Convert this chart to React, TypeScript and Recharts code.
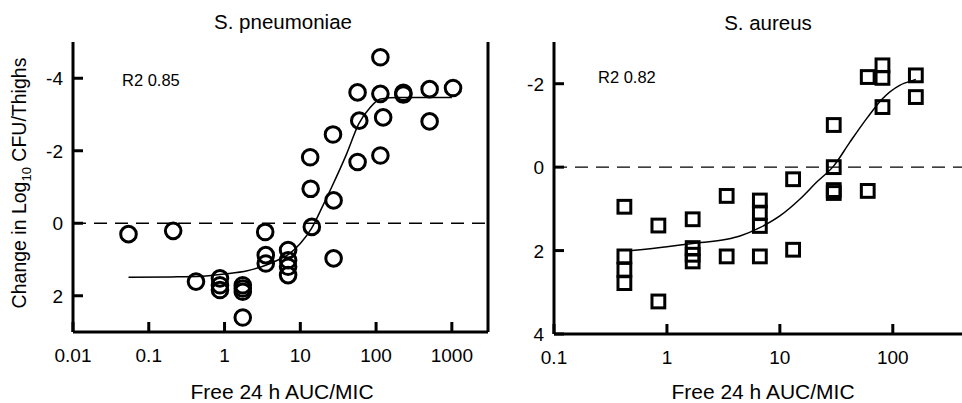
import React from 'react';
import { ScatterChart, Scatter, XAxis, YAxis, ReferenceLine } from 'recharts';

// ---------- S. pneumoniae (left panel) ----------
const spAuc = [0.054, 0.21, 0.42, 0.87, 0.87, 0.87, 1.74, 1.74, 1.74, 1.74, 3.44, 3.5, 3.5, 6.9, 6.9, 6.9, 6.9, 14.2, 13.7, 13.5, 27.5, 27, 27.5, 57, 60, 57, 114, 114, 124, 114, 229, 229, 509, 509, 1037];
const spChange = [0.3, 0.21, 1.61, 1.52, 1.71, 1.84, 1.71, 1.8, 1.89, 2.6, 0.24, 0.88, 1.11, 0.74, 1.02, 1.2, 1.43, 0.1, -0.95, -1.82, -0.63, -2.45, 0.97, -1.69, -2.83, -3.61, -4.58, -3.57, -2.92, -1.87, -3.6, -3.55, -3.7, -2.81, -3.73];
const spFitAuc = [0.054, 0.2, 0.5, 1, 2, 3.5, 5, 7, 10, 14, 20, 26, 41, 59, 84, 114, 200, 1000];
const spFitChange = [1.49, 1.48, 1.46, 1.4, 1.31, 1.16, 1.02, 0.86, 0.56, 0.15, -0.5, -1.0, -1.92, -2.74, -3.2, -3.43, -3.47, -3.47];
const spXTicks = [0.01, 0.1, 1, 10, 100, 1000];
const spYTicks = [-4, -2, 0, 2];

// ---------- S. aureus (right panel) ----------
const saAuc = [0.42, 0.42, 0.42, 0.42, 0.84, 0.84, 1.69, 1.69, 1.69, 1.69, 3.38, 3.38, 6.65, 6.65, 6.65, 6.65, 13.1, 13.1, 30, 30, 30, 30, 60, 60, 81, 81, 81, 160, 160];
const saChange = [0.95, 2.14, 2.46, 2.78, 1.4, 3.22, 1.25, 1.94, 2.1, 2.26, 0.69, 2.14, 0.8, 1.09, 1.41, 2.14, 0.29, 1.98, -1.01, 0.0, 0.55, 0.62, 0.57, -2.16, -2.44, -2.14, -1.44, -2.2, -1.68];
const saFitAuc = [0.49, 1.0, 1.69, 3.38, 4.43, 6.65, 10, 15, 21, 30, 41.7, 60, 81, 115, 151, 160];
const saFitChange = [2.0, 1.91, 1.83, 1.73, 1.65, 1.45, 1.17, 0.77, 0.37, -0.03, -0.6, -1.2, -1.64, -1.96, -2.08, -2.1];
const saXTicks = [0.1, 1, 10, 100];
const saYTicks = [-2, 0, 2, 4];

const zip = (xs: number[], ys: number[]) => xs.map((x, i) => ({ x, y: ys[i] }));

const FONT = '"Liberation Sans", Arial, Helvetica, sans-serif';

const XTick = (props: any) => {
  const { x, y, payload } = props;
  return (
    <g>
      <line x1={x} x2={x} y1={y} y2={y - 10} stroke="#000" strokeWidth={3} />
      <text x={x} y={y + 30} textAnchor="middle" fontSize={19} fontFamily={FONT} fill="#000">
        {String(payload.value)}
      </text>
    </g>
  );
};

const YTick = (props: any) => {
  const { x, y, payload } = props;
  return (
    <g>
      <line x1={x} x2={x + 10} y1={y} y2={y} stroke="#000" strokeWidth={3} />
      <text x={x - 10} y={y + 7} textAnchor="end" fontSize={19} fontFamily={FONT} fill="#000">
        {String(payload.value)}
      </text>
    </g>
  );
};

const Empty = () => <g />;
const Ring = (p: any) => <circle cx={p.cx} cy={p.cy} r={7.8} fill="none" stroke="#000" strokeWidth={3} />;
const Box = (p: any) => <rect x={p.cx - 6.4} y={p.cy - 6.4} width={12.8} height={12.8} fill="none" stroke="#000" strokeWidth={3} />;

const axisLine = { stroke: '#000', strokeWidth: 3 };

export default function App() {
  const spPts = zip(spAuc, spChange);
  const spFit = zip(spFitAuc, spFitChange);
  const saPts = zip(saAuc, saChange);
  const saFit = zip(saFitAuc, saFitChange);
  return (
    <div style={{ position: 'absolute', left: 0, top: 0, width: 962, height: 403, overflow: 'hidden', background: '#fff' }}>
      <div style={{ position: 'absolute', left: 0, top: 0 }}>
        <ScatterChart width={500} height={403} margin={{ top: 42, right: 12, bottom: 0, left: 0 }}>
          <XAxis type="number" dataKey="x" scale="log" domain={[0.01, 3000]} ticks={spXTicks} interval={0}
            allowDataOverflow height={71} tickSize={0} tickMargin={0} tickLine={false} axisLine={axisLine} tick={XTick} />
          <YAxis type="number" dataKey="y" reversed domain={[-5, 3]} ticks={spYTicks} interval={0}
            allowDataOverflow width={73} tickSize={0} tickMargin={0} tickLine={false} axisLine={axisLine} tick={YTick} />
          <ReferenceLine y={0} stroke="#000" strokeWidth={1.3} strokeDasharray="13 8" />
          <ReferenceLine x={3000} stroke="#000" strokeWidth={3} />
          <Scatter data={spFit} fill="none" line={{ stroke: '#000', strokeWidth: 1.5 }} lineJointType="monotoneX" shape={Empty} isAnimationActive={false} />
          <Scatter data={spPts} fill="none" shape={Ring} isAnimationActive={false} />
        </ScatterChart>
      </div>
      <div style={{ position: 'absolute', left: 480, top: 0 }}>
        <ScatterChart width={482} height={403} margin={{ top: 42, right: 0, bottom: 0, left: 0 }}>
          <XAxis type="number" dataKey="x" scale="log" domain={[0.1, 410]} ticks={saXTicks} interval={0}
            allowDataOverflow height={69} tickSize={0} tickMargin={0} tickLine={false} axisLine={axisLine} tick={XTick} />
          <YAxis type="number" dataKey="y" reversed domain={[-3, 4]} ticks={saYTicks} interval={0}
            allowDataOverflow width={74} tickSize={0} tickMargin={0} tickLine={false} axisLine={axisLine} tick={YTick} />
          <ReferenceLine y={0} stroke="#000" strokeWidth={1.3} strokeDasharray="13 8" />
          <Scatter data={saFit} fill="none" line={{ stroke: '#000', strokeWidth: 1.5 }} lineJointType="monotoneX" shape={Empty} isAnimationActive={false} />
          <Scatter data={saPts} fill="none" shape={Box} isAnimationActive={false} />
        </ScatterChart>
      </div>
      <svg width={962} height={403} style={{ position: 'absolute', left: 0, top: 0, pointerEvents: 'none' }}>
        <text x={283} y={29} textAnchor="middle" fontSize={20.5} fontFamily={FONT}>S. pneumoniae</text>
        <text x={768} y={30} textAnchor="middle" fontSize={20.5} fontFamily={FONT}>S. aureus</text>
        <text x={122} y={86} fontSize={16.5} fontFamily={FONT}>R2 0.85</text>
        <text x={598} y={83} fontSize={16.5} fontFamily={FONT}>R2 0.82</text>
        <text x={282} y={399} textAnchor="middle" fontSize={21} fontFamily={FONT}>Free 24 h AUC/MIC</text>
        <text x={763} y={399} textAnchor="middle" fontSize={21} fontFamily={FONT}>Free 24 h AUC/MIC</text>
        <text transform="translate(26,183) rotate(-90)" textAnchor="middle" fontSize={19.5} fontFamily={FONT}>
          Change in Log<tspan dy={5} fontSize={13}>10</tspan><tspan dy={-5}> CFU/Thighs</tspan>
        </text>
      </svg>
    </div>
  );
}
